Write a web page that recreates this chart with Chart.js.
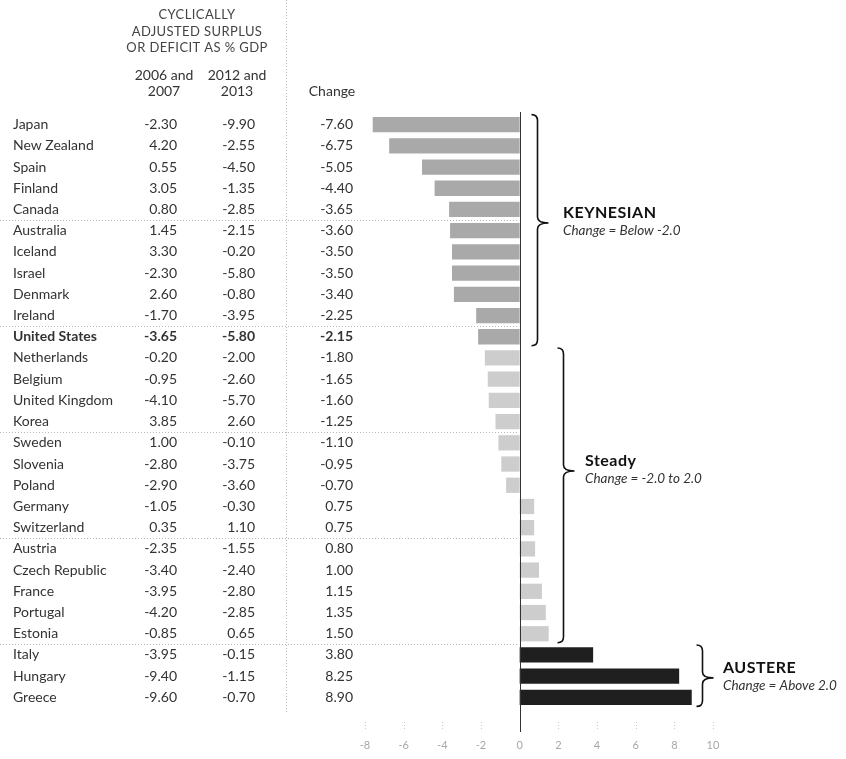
<!DOCTYPE html>
<html lang="en">
<head>
    <meta charset="UTF-8">
    <title>Cyclically adjusted surplus or deficit</title>
    <script src="https://cdn.jsdelivr.net/npm/chart.js"></script>
    <style>
        body {
            margin: 0;
            background: #fff;
        }
        #chart {
            display: block;
        }
    </style>
</head>
<body>
    <canvas id="chart" width="846" height="759"></canvas>

    <script>
        // Data
        const countries = ['Japan', 'New Zealand', 'Spain', 'Finland', 'Canada', 'Australia', 'Iceland', 'Israel',
            'Denmark', 'Ireland', 'United States', 'Netherlands', 'Belgium', 'United Kingdom', 'Korea', 'Sweden',
            'Slovenia', 'Poland', 'Germany', 'Switzerland', 'Austria', 'Czech Republic', 'France', 'Portugal',
            'Estonia', 'Italy', 'Hungary', 'Greece'];
        const balance2006to2007 = [-2.30, 4.20, 0.55, 3.05, 0.80, 1.45, 3.30, -2.30, 2.60, -1.70, -3.65, -0.20,
            -0.95, -4.10, 3.85, 1.00, -2.80, -2.90, -1.05, 0.35, -2.35, -3.40, -3.95, -4.20, -0.85, -3.95, -9.40, -9.60];
        const balance2012to2013 = [-9.90, -2.55, -4.50, -1.35, -2.85, -2.15, -0.20, -5.80, -0.80, -3.95, -5.80, -2.00,
            -2.60, -5.70, 2.60, -0.10, -3.75, -3.60, -0.30, 1.10, -1.55, -2.40, -2.80, -2.85, 0.65, -0.15, -1.15, -0.70];
        const changes = [-7.60, -6.75, -5.05, -4.40, -3.65, -3.60, -3.50, -3.50, -3.40, -2.25, -2.15, -1.80,
            -1.65, -1.60, -1.25, -1.10, -0.95, -0.70, 0.75, 0.75, 0.80, 1.00, 1.15, 1.35, 1.50, 3.80, 8.25, 8.90];
        const highlighted = 'United States';

        const groupNames = ['KEYNESIAN', 'Steady', 'AUSTERE'];
        const groupNotes = ['Change = Below -2.0', 'Change = -2.0 to 2.0', 'Change = Above 2.0'];
        const groupFirst = [0, 11, 25];
        const groupLast = [10, 24, 27];
        const groupColors = ['#a9a9a9', '#cdcdcd', '#1f1f1f'];

        const FONT = 'Lato, "Open Sans", sans-serif';

        function groupOf(i) {
            for (let g = 0; g < groupFirst.length; g++) {
                if (i >= groupFirst[g] && i <= groupLast[g]) return g;
            }
            return 0;
        }

        const fmt = v => v.toFixed(2);

        // curly brace "}" pointing right
        function drawBrace(ctx, x, top, bottom, tipY) {
            const r = 6, w = 11;
            ctx.beginPath();
            ctx.moveTo(x - r, top);
            ctx.quadraticCurveTo(x, top, x, top + r);
            ctx.lineTo(x, tipY - r);
            ctx.quadraticCurveTo(x, tipY, x + w, tipY);
            ctx.quadraticCurveTo(x, tipY, x, tipY + r);
            ctx.lineTo(x, bottom - r);
            ctx.quadraticCurveTo(x, bottom, x - r, bottom);
            ctx.stroke();
        }

        const tablePlugin = {
            id: 'table',
            beforeDatasetsDraw(chart) {
                const ctx = chart.ctx;
                const y = chart.scales.y;
                ctx.save();
                ctx.strokeStyle = '#b8b8b8';
                ctx.lineWidth = 1;
                ctx.setLineDash([1, 2]);
                // column divider
                ctx.beginPath();
                ctx.moveTo(286.5, 0);
                ctx.lineTo(286.5, 712);
                ctx.stroke();
                // group-of-five separators
                for (let i = 4; i < countries.length - 1; i += 5) {
                    const yy = Math.round((y.getPixelForValue(i) + y.getPixelForValue(i + 1)) / 2) + 0.5;
                    ctx.beginPath();
                    ctx.moveTo(0, yy);
                    ctx.lineTo(517, yy);
                    ctx.stroke();
                }
                ctx.restore();
            },
            afterDatasetsDraw(chart) {
                const ctx = chart.ctx;
                const x = chart.scales.x;
                const y = chart.scales.y;
                ctx.save();

                // zero line
                const x0 = Math.round(x.getPixelForValue(0)) + 0.5;
                ctx.strokeStyle = '#333';
                ctx.lineWidth = 1;
                ctx.beginPath();
                ctx.moveTo(x0, chart.chartArea.top - 2);
                ctx.lineTo(x0, chart.chartArea.bottom + 24);
                ctx.stroke();

                // little dotted tick marks
                ctx.strokeStyle = '#c8c8c8';
                ctx.setLineDash([1, 2]);
                x.ticks.forEach(t => {
                    if (t.value === 0) return;
                    const px = Math.round(x.getPixelForValue(t.value)) + 0.5;
                    ctx.beginPath();
                    ctx.moveTo(px, chart.chartArea.bottom + 14);
                    ctx.lineTo(px, chart.chartArea.bottom + 21);
                    ctx.stroke();
                });
                ctx.setLineDash([]);

                // header
                ctx.fillStyle = '#444';
                ctx.textAlign = 'center';
                ctx.textBaseline = 'middle';
                ctx.font = '13px ' + FONT;
                ctx.letterSpacing = '0.4px';
                ['CYCLICALLY', 'ADJUSTED SURPLUS', 'OR DEFICIT AS % GDP'].forEach((s, k) => {
                    ctx.fillText(s, 197, 15 + k * 16.5);
                });
                ctx.letterSpacing = '0px';
                ctx.fillStyle = '#333';
                ctx.font = '14px ' + FONT;
                ctx.fillText('2006 and', 164, 75);
                ctx.fillText('2007', 164, 91);
                ctx.fillText('2012 and', 237, 75);
                ctx.fillText('2013', 237, 91);
                ctx.fillText('Change', 332, 91);

                // table rows
                countries.forEach((c, i) => {
                    const yy = y.getPixelForValue(i);
                    ctx.font = (c === highlighted ? 'bold ' : '') + '14px ' + FONT;
                    ctx.textAlign = 'left';
                    ctx.fillText(c, 13, yy);
                    ctx.textAlign = 'right';
                    ctx.fillText(fmt(balance2006to2007[i]), 177, yy);
                    ctx.fillText(fmt(balance2012to2013[i]), 255, yy);
                    ctx.fillText(fmt(changes[i]), 353, yy);
                });

                // braces and group labels
                const braceX = [537, 563, 702];
                const labelGap = [26, 22, 21];
                const tipIndex = [4.64, 16.33, 26.08];
                ctx.strokeStyle = '#111';
                ctx.lineWidth = 1.6;
                groupNames.forEach((name, g) => {
                    const top = y.getPixelForValue(groupFirst[g]) - 10;
                    const bottom = y.getPixelForValue(groupLast[g]) + 9;
                    const tipY = y.getPixelForValue(tipIndex[g]);
                    drawBrace(ctx, braceX[g] + 0.5, top, bottom, tipY);
                    ctx.textAlign = 'left';
                    ctx.fillStyle = '#111';
                    ctx.font = 'bold 16px ' + FONT;
                    ctx.letterSpacing = '0.5px';
                    ctx.fillText(name, braceX[g] + labelGap[g], tipY - 10);
                    ctx.letterSpacing = '0px';
                    ctx.fillStyle = '#333';
                    ctx.font = 'italic 13.5px ' + FONT;
                    ctx.fillText(groupNotes[g], braceX[g] + labelGap[g], tipY + 8);
                });

                ctx.restore();
            }
        };

        new Chart(document.getElementById('chart'), {
            type: 'bar',
            data: {
                labels: countries,
                datasets: [{
                    data: changes,
                    backgroundColor: changes.map((v, i) => groupColors[groupOf(i)]),
                    borderWidth: 0,
                    barPercentage: 0.72,
                    categoryPercentage: 1.0
                }]
            },
            options: {
                indexAxis: 'y',
                responsive: false,
                animation: false,
                layout: {
                    padding: { left: 365, right: 133, top: 114, bottom: 7 }
                },
                plugins: {
                    legend: { display: false },
                    tooltip: { enabled: false }
                },
                scales: {
                    x: {
                        min: -8,
                        max: 10,
                        ticks: {
                            stepSize: 2,
                            color: '#a8a8a8',
                            padding: 31,
                            font: { family: FONT, size: 11 }
                        },
                        grid: { display: false, drawTicks: false },
                        border: { display: false },
                        afterFit(scale) {
                            scale.height = 44;
                        }
                    },
                    y: {
                        display: false,
                        offset: true
                    }
                }
            },
            plugins: [tablePlugin]
        });
    </script>
</body>
</html>
